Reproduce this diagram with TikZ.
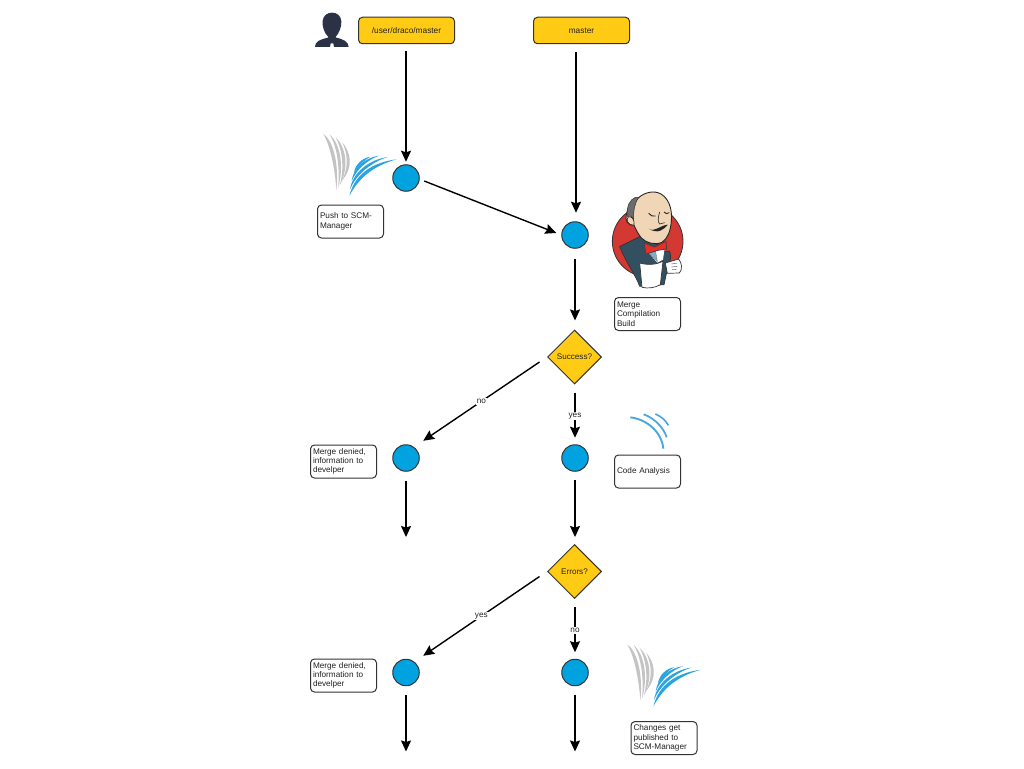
\documentclass[tikz,border=0pt]{standalone}
\usepackage{fontspec}
\setmainfont{Liberation Sans}
\usetikzlibrary{arrows.meta,shapes.geometric}
\definecolor{ybox}{HTML}{FFCB14}
\definecolor{bcirc}{HTML}{00A3E0}
\definecolor{edge}{HTML}{333333}
\definecolor{inkc}{HTML}{222222}
\definecolor{scmgray}{HTML}{C4C4C4}
\definecolor{scmblue}{HTML}{2BA3DE}
\definecolor{sonarb}{HTML}{4BA8DE}
\definecolor{person}{HTML}{2B3245}
\definecolor{jred}{HTML}{D33833}
\definecolor{jtie}{HTML}{E5302A}
\definecolor{jskin}{HTML}{F0D6B7}
\definecolor{jblue}{HTML}{335061}
\definecolor{jlblue}{HTML}{81B0C4}
\definecolor{jgray}{HTML}{6D6B6D}
\newcommand{\lift}[1]{\raisebox{-1pt}{#1}}
\newcommand{\scmlogo}[2]{%
\begin{scope}[shift={(#1,#2)},x=0.3333pt,y=-0.3333pt]
 \fill[scmgray] (25,27) .. controls (58,50) and (72,125) .. (64,196) .. controls (60,130) and (45,60) .. (25,27) -- cycle;
 \fill[scmgray] (44,29) .. controls (76,55) and (88,125) .. (69,190) .. controls (76,125) and (64,58) .. (44,29) -- cycle;
 \fill[scmgray] (62,37) .. controls (92,65) and (104,125) .. (74,182) .. controls (90,125) and (80,70) .. (62,37) -- cycle;
 \fill[scmgray] (82,52) .. controls (106,80) and (118,125) .. (80,168) .. controls (104,122) and (96,85) .. (82,52) -- cycle;
 \fill[scmblue] (103,213) .. controls (118,150) and (170,112) .. (245,103) .. controls (175,122) and (130,160) .. (103,213) -- cycle;
 \fill[scmblue] (105,193) .. controls (112,145) and (160,104) .. (218,96) .. controls (165,113) and (122,152) .. (105,193) -- cycle;
 \fill[scmblue] (110,168) .. controls (115,128) and (150,98) .. (192,92) .. controls (155,106) and (125,134) .. (110,168) -- cycle;
 \fill[scmblue] (117,142) .. controls (122,118) and (140,100) .. (166,95) .. controls (146,106) and (130,124) .. (117,142) -- cycle;
\end{scope}}
\tikzset{
 flowedge/.style={draw=black,line width=1.4pt,-{Stealth[length=11pt,width=10pt,inset=1.5pt]}},
 branch/.style={draw=edge,line width=1pt,fill=ybox,rectangle,rounded corners=4pt,minimum width=96pt,minimum height=26.5pt,inner sep=0pt,font=\fontsize{8.3}{9.3}\selectfont,text=inkc},
 gate/.style={draw=edge,line width=1pt,fill=bcirc,circle,minimum size=26.5pt,inner sep=0pt},
 decide/.style={draw=edge,line width=1pt,fill=ybox,diamond,aspect=1,minimum width=54pt,minimum height=54pt,inner sep=0pt,font=\fontsize{8.1}{9.3}\selectfont,text=inkc},
 note/.style={draw=edge,line width=1pt,fill=white,rectangle,rounded corners=4pt,minimum width=66pt,minimum height=33pt,text width=61pt,inner xsep=2.5pt,inner ysep=0pt,align=left,font=\fontsize{8.2}{9.3}\selectfont,text=inkc},
 edgelabel/.style={fill=white,inner sep=1pt,font=\fontsize{8.2}{9}\selectfont,text=inkc}
}
\begin{document}
\begin{tikzpicture}[x=1pt,y=-1pt]
\useasboundingbox (0,0) rectangle (1024,768);
% person
\begin{scope}[shift={(310,8)},x=0.3333pt,y=-0.3333pt]
 \fill[person] (15,117) .. controls (15,100) and (28,96) .. (56,88) .. controls (42,75) and (36,55) .. (38,38) .. controls (40,22) and (52,14) .. (66,14) .. controls (82,14) and (93,24) .. (94,40) .. controls (95,56) and (88,75) .. (76,88) .. controls (100,94) and (115,100) .. (116,117) -- (72,117) -- (70,106) -- (62,106) -- (60,117) -- cycle;
\end{scope}
% scm logos
\scmlogo{315}{125}
\scmlogo{619}{635.5}
% code analysis logo
\begin{scope}[shift={(600,400)},x=0.3333pt,y=-0.3333pt]
 \draw[sonarb,line width=1.9pt] (91,52) .. controls (140,58) and (185,95) .. (190,146);
 \draw[sonarb,line width=1.8pt] (131,43) .. controls (165,55) and (192,85) .. (200,112);
 \draw[sonarb,line width=1.6pt] (166,42) .. controls (185,50) and (198,62) .. (205,76);
\end{scope}
% jenkins
\begin{scope}[shift={(608,188)},x=0.3333pt,y=-0.3333pt]
 \fill[jred,draw=edge,line width=0.8pt] (119,160) circle[radius=106];
 % body
 \fill[jblue,draw=black!80,line width=0.7pt] (35,176) -- (95,146) -- (150,170) -- (165,190) -- (185,190) .. controls (190,205) and (188,220) .. (180,235) -- (168,290) -- (95,295) .. controls (85,265) and (55,225) .. (35,176) -- cycle;
 % shirt
 \fill[white] (118,190) -- (170,180) -- (165,215) -- (148,224) -- cycle;
 \fill[jlblue,draw=black!60,line width=0.3pt] (120,192) -- (142,186) -- (148,220) -- cycle;
 % head
 \fill[jskin,draw=black!85,line width=0.9pt] (82,40) .. controls (100,15) and (130,8) .. (150,14) .. controls (180,24) and (194,60) .. (190,100) .. controls (187,130) and (180,150) .. (162,163) .. controls (140,172) and (115,165) .. (100,150) .. controls (88,135) and (82,120) .. (78,112) .. controls (60,115) and (50,95) .. (55,80) .. controls (58,60) and (68,50) .. (82,40) -- cycle;
 % hair
 \fill[jgray,draw=black!80,line width=0.5pt] (82,28) .. controls (65,35) and (55,55) .. (58,85) .. controls (65,80) and (72,85) .. (77,95) .. controls (76,70) and (78,50) .. (92,28) .. controls (88,26) and (85,26) .. (82,28) -- cycle;
 \fill[jskin,draw=black!85,line width=0.6pt] (62,86) .. controls (52,92) and (58,112) .. (78,112) .. controls (80,100) and (75,85) .. (62,86) -- cycle;
 % face
 \draw[black!85,line width=0.9pt] (122,76) .. controls (128,84) and (135,86) .. (143,84);
 \draw[black!85,line width=0.9pt] (168,72) .. controls (172,78) and (178,78) .. (184,74);
 \draw[black!85,line width=0.6pt] (155,72) .. controls (150,90) and (148,100) .. (155,108) -- (170,104);
 \fill[black!85] (122,122) .. controls (140,134) and (155,112) .. (180,110) .. controls (168,124) and (150,140) .. (122,122) -- cycle;
 % tie
 \fill[jtie,draw=black!75,line width=0.7pt] (108,165) -- (140,177) -- (174,160) -- (176,183) -- (150,187) -- (114,198) -- cycle;
 % napkin
 \fill[white,draw=black!80,line width=0.7pt] (95,225) .. controls (120,232) and (145,230) .. (165,220) -- (157,290) .. controls (140,300) and (120,302) .. (102,298) -- cycle;
 % glove
 \fill[white,draw=black!80,line width=0.7pt] (172,225) -- (212,213) .. controls (222,225) and (224,245) .. (214,255) -- (178,256) -- cycle;
 \draw[black!70,line width=0.4pt] (190,228) -- (206,226) (190,237) -- (208,235) (192,245) -- (205,244);
\end{scope}
% nodes
\node[branch] (b1) at (406.5,30.5) {/user/draco/master};
\node[branch] (b2) at (581.5,30.5) {master};
\node[gate] (c1) at (406,178) {};
\node[gate] (c2) at (575,235) {};
\node[gate] (c3) at (406,458) {};
\node[gate] (c4) at (575,458) {};
\node[gate] (c5) at (406,672.5) {};
\node[gate] (c6) at (575,672.5) {};
\node[decide] (d1) at (574.5,357) {Success?};
\node[decide] (d2) at (574.5,571.5) {Errors?};
\node[note] (n1) at (350.5,221.5) {\lift{Push to SCM-}\\\lift{Manager}};
\node[note] (n2) at (647.5,314) {\lift{Merge}\\\lift{Compilation}\\\lift{Build}};
\node[note] (n3) at (343.5,461.5) {\lift{Merge denied,}\\\lift{information to}\\\lift{develper}};
\node[note] (n4) at (647.5,471.5) {\lift{Code Analysis}};
\node[note] (n5) at (343.5,675.5) {\lift{Merge denied,}\\\lift{information to}\\\lift{develper}};
\node[note] (n6) at (664,738) {\lift{Changes get}\\\lift{published to}\\\lift{SCM-Manager}};
\coordinate (e1) at (406,537);
\coordinate (e2) at (575,537);
\coordinate (e3) at (406,751.5);
\coordinate (e4) at (575,751.5);
% connectors
\draw[flowedge,shorten <=7pt,shorten >=2.5pt] (b1.south -| c1) -- (c1.north);
\draw[flowedge,shorten <=8pt,shorten >=8.5pt] ([xshift=-5.5pt]b2.south) -- ([xshift=1pt]c2.north);
\draw[flowedge] ([shift={(4.5pt,-3pt)}]c1.east) -- ([shift={(-5pt,2pt)}]c2.west);
\draw[flowedge,shorten <=10.5pt,shorten >=9pt] (c2.south) -- (c2.south |- d1.north);
\draw[flowedge] ([shift={(-7.5pt,-5pt)}]d1.west) -- node[edgelabel,pos=0.5]{no} ([shift={(7.5pt,7.5pt)}]c3.north east);
\draw[flowedge,shorten <=8pt,shorten >=6.5pt] (c4.north |- d1.south) -- node[edgelabel,pos=0.53]{yes} (c4.north);
\draw[flowedge,shorten <=9pt] (c3.south) -- (e1);
\draw[flowedge,shorten <=8.5pt] (c4.south) -- (e2);
\draw[flowedge] ([shift={(-7.5pt,-5pt)}]d2.west) -- node[edgelabel,pos=0.5]{yes} ([shift={(7.5pt,7pt)}]c5.north east);
\draw[flowedge,shorten <=8pt,shorten >=6.5pt] (c6.north |- d2.south) -- node[edgelabel,pos=0.53]{no} (c6.north);
\draw[flowedge,shorten <=9pt] (c5.south) -- (e3);
\draw[flowedge,shorten <=8.5pt] (c6.south) -- (e4);
\end{tikzpicture}
\end{document}
